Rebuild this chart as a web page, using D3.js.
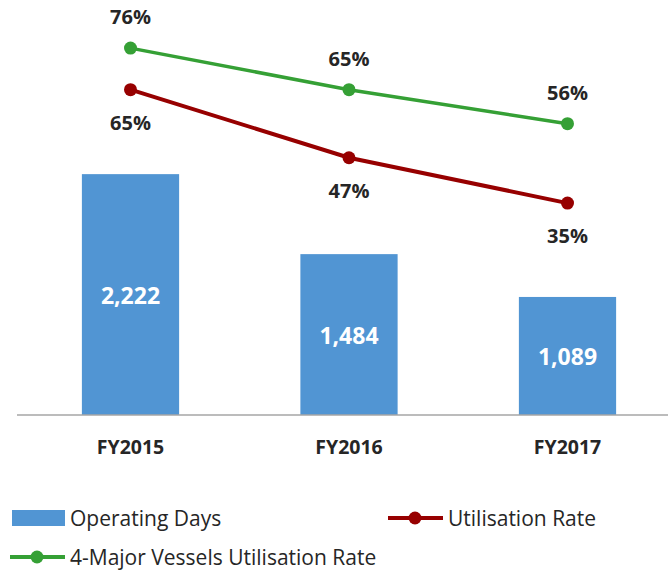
<!DOCTYPE html>
<meta charset="utf-8">
<style>
  body { margin: 0; background: #fff; }
  text { font-family: "Open Sans", "Liberation Sans", sans-serif; fill: #262626; }
  .lbl { font-weight: bold; font-size: 20px; }
  .barlbl { font-weight: bold; font-size: 23px; fill: #fff; }
  .legend text { font-size: 21px; }
</style>
<body>
<script src="https://cdn.jsdelivr.net/npm/d3@7"></script>
<script>
  var years = ["FY2015", "FY2016", "FY2017"];
  var operatingDays = [2222, 1484, 1089];
  var utilisation = [65, 47, 35];
  var majorUtilisation = [76, 65, 56];

  var width = 668, height = 572;
  var baseY = 415;

  var svg = d3.select("body").append("svg")
    .attr("width", width)
    .attr("height", height);

  var x = d3.scaleBand().domain(years).range([21.25, 676.75])
    .paddingInner(0.555).paddingOuter(0.2775);
  var yBar = d3.scaleLinear().domain([0, 2500]).range([baseY, baseY - 271]);
  var yPct = d3.scaleLinear().domain([-20, 100]).range([411, 411 - 453.6]);

  // bars
  svg.selectAll("rect.bar").data(operatingDays).enter().append("rect")
    .attr("class", "bar")
    .attr("x", (d, i) => x(years[i]))
    .attr("width", x.bandwidth())
    .attr("y", d => yBar(d))
    .attr("height", d => baseY - yBar(d))
    .attr("fill", "#5195d3");

  svg.selectAll("text.barlbl").data(operatingDays).enter().append("text")
    .attr("class", "barlbl")
    .attr("x", (d, i) => x(years[i]) + x.bandwidth() / 2)
    .attr("y", d => (yBar(d) + baseY) / 2 + 9)
    .attr("text-anchor", "middle")
    .text(d => d3.format(",")(d));

  // x axis
  var xAxis = svg.append("g")
    .attr("transform", "translate(0," + baseY + ")")
    .call(d3.axisBottom(x).tickSize(0).tickPadding(25));
  xAxis.select(".domain").attr("d", "M17,0H668").attr("stroke", "#a6a6a6").attr("stroke-width", 1.5);
  xAxis.selectAll("text").attr("fill", "#262626")
    .style("font-size", "19.5px").style("font-weight", "bold");

  // lines
  var series = [
    { name: "4-Major Vessels Utilisation Rate", values: majorUtilisation, color: "#35a035", width: 3.5, dy: -24 },
    { name: "Utilisation Rate", values: utilisation, color: "#970000", width: 4, dy: 40 }
  ];
  var line = d3.line()
    .x((d, i) => x(years[i]) + x.bandwidth() / 2)
    .y(d => yPct(d));

  series.forEach(s => {
    svg.append("path")
      .datum(s.values)
      .attr("d", line)
      .attr("fill", "none")
      .attr("stroke", s.color)
      .attr("stroke-width", s.width);
    svg.selectAll(null).data(s.values).enter().append("circle")
      .attr("cx", (d, i) => x(years[i]) + x.bandwidth() / 2)
      .attr("cy", d => yPct(d))
      .attr("r", 6.5)
      .attr("fill", s.color);
    svg.selectAll(null).data(s.values).enter().append("text")
      .attr("class", "lbl")
      .attr("x", (d, i) => x(years[i]) + x.bandwidth() / 2)
      .attr("y", d => yPct(d) + s.dy)
      .attr("text-anchor", "middle")
      .text(d => d + "%");
  });

  // legend
  var lg = svg.append("g").attr("class", "legend");
  lg.append("rect").attr("x", 12).attr("y", 510).attr("width", 53).attr("height", 16).attr("fill", "#5195d3");
  lg.append("text").attr("x", 70).attr("y", 526).text("Operating Days");

  var legendLines = [
    { s: series[1], x0: 388, y: 518 },
    { s: series[0], x0: 10, y: 557 }
  ];
  legendLines.forEach(l => {
    lg.append("line").attr("x1", l.x0).attr("x2", l.x0 + 55)
      .attr("y1", l.y).attr("y2", l.y)
      .attr("stroke", l.s.color).attr("stroke-width", 4);
    lg.append("circle").attr("cx", l.x0 + 27).attr("cy", l.y).attr("r", 6.5).attr("fill", l.s.color);
    lg.append("text").attr("x", l.x0 + 60).attr("y", l.y + 8).text(l.s.name);
  });
</script>
</body>
